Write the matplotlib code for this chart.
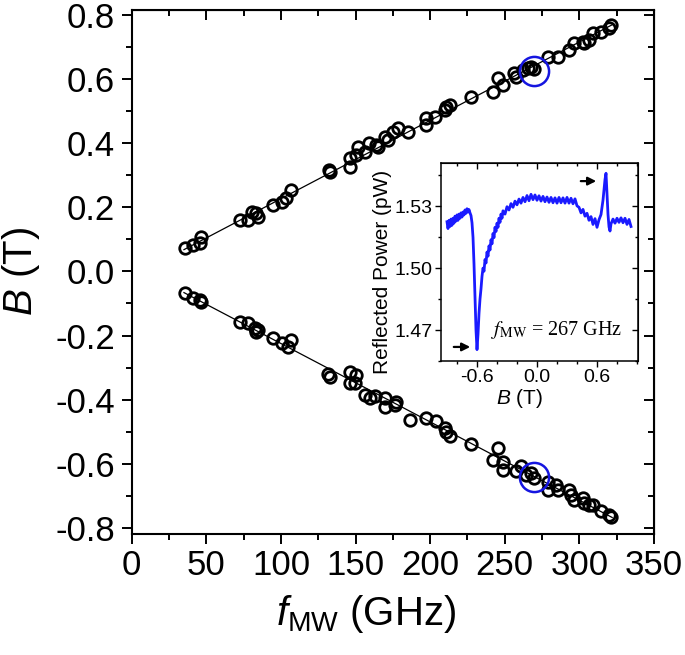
import matplotlib
matplotlib.use("Agg")
import matplotlib.pyplot as plt
from matplotlib.ticker import MultipleLocator

plt.rcParams['font.family'] = ['Liberation Sans', 'DejaVu Sans']
plt.rcParams['mathtext.fontset'] = 'custom'
plt.rcParams['mathtext.rm'] = 'Liberation Sans'
plt.rcParams['mathtext.it'] = 'Liberation Sans:italic'
plt.rcParams['axes.unicode_minus'] = False

# main data: resonance field vs microwave frequency
f_up = [35.7, 41.2, 45.7, 46.4, 72.5, 78.0, 80.3, 83.2, 84.7, 94.8, 100.4, 103.7,
        106.6, 132.2, 132.7, 146.1, 146.1, 150.6, 151.6, 156.1, 159.0, 164.0, 165.0,
        169.5, 171.7, 175.0, 178.4, 185.1, 197.4, 197.4, 203.0, 209.7, 210.8, 213.0,
        227.5, 242.0, 245.3, 248.7, 256.5, 257.6, 262.1, 265.4, 267.7, 269.9, 278.8,
        285.5, 293.3, 296.7, 302.2, 303.4, 306.7, 308.9, 314.5, 320.1, 321.2]
B_up = [0.072, 0.083, 0.088, 0.107, 0.161, 0.161, 0.187, 0.182, 0.171, 0.207, 0.218, 0.228,
        0.254, 0.317, 0.311, 0.327, 0.353, 0.363, 0.389, 0.374, 0.402, 0.395, 0.389,
        0.420, 0.410, 0.436, 0.447, 0.436, 0.478, 0.457, 0.483, 0.504, 0.514, 0.519,
        0.543, 0.561, 0.603, 0.582, 0.618, 0.608, 0.628, 0.634, 0.639, 0.631, 0.670,
        0.670, 0.691, 0.712, 0.717, 0.712, 0.722, 0.743, 0.748, 0.759, 0.769]

f_dn = [35.7, 41.2, 45.7, 46.4, 72.5, 78.0, 82.5, 84.7, 83.6, 94.8, 100.4, 104.8,
        106.6, 131.6, 132.7, 146.1, 150.6, 146.1, 149.4, 156.1, 159.5, 162.8, 169.5,
        169.5, 176.2, 177.3, 186.2, 197.4, 204.1, 209.7, 210.8, 213.0, 227.5, 245.3,
        242.0, 248.7, 248.7, 257.6, 261.0, 264.3, 267.7, 269.9, 278.8, 278.8, 284.4,
        285.5, 293.3, 294.4, 296.7, 302.2, 303.4, 306.7, 308.9, 314.5, 320.1, 321.2]
B_dn = [-0.066, -0.084, -0.089, -0.094, -0.157, -0.162, -0.177, -0.182, -0.188, -0.208, -0.224, -0.235,
        -0.214, -0.320, -0.328, -0.313, -0.323, -0.349, -0.349, -0.385, -0.396, -0.388, -0.396,
        -0.422, -0.416, -0.408, -0.463, -0.458, -0.468, -0.489, -0.500, -0.515, -0.538, -0.551,
        -0.588, -0.596, -0.619, -0.624, -0.607, -0.635, -0.629, -0.645, -0.656, -0.682, -0.666,
        -0.682, -0.682, -0.697, -0.713, -0.707, -0.723, -0.728, -0.728, -0.749, -0.760, -0.765]

# linear fits
fit_f = [35, 322]
fit_up = [0.068, 0.770]
fit_dn = [-0.066, -0.768]

# highlighted 267 GHz points
mark_f = [269.4, 269.4]
mark_B = [0.626, -0.642]

# inset: reflected power trace at 267 GHz
trace_B = [-0.90, -0.89, -0.88, -0.87, -0.86, -0.85, -0.84, -0.83, -0.82, -0.81, -0.80, -0.79,
           -0.78, -0.77, -0.76, -0.75, -0.74, -0.73, -0.72, -0.71, -0.70, -0.69, -0.68, -0.67,
           -0.66, -0.65, -0.64, -0.63, -0.62, -0.61, -0.60, -0.59, -0.58, -0.57, -0.56, -0.55,
           -0.54, -0.53, -0.52, -0.51, -0.50, -0.49, -0.48, -0.47, -0.46, -0.45, -0.44, -0.43,
           -0.42, -0.41, -0.40, -0.39, -0.38, -0.37, -0.36, -0.35, -0.34, -0.32, -0.30, -0.28,
           -0.26, -0.24, -0.22, -0.20, -0.18, -0.16, -0.14, -0.12, -0.10, -0.08, -0.06, -0.04,
           -0.02, 0.00, 0.02, 0.04, 0.06, 0.08, 0.10, 0.12, 0.14, 0.16, 0.18, 0.20,
           0.22, 0.24, 0.26, 0.28, 0.30, 0.32, 0.34, 0.36, 0.38, 0.40, 0.42, 0.44,
           0.46, 0.48, 0.50, 0.52, 0.54, 0.56, 0.58, 0.60, 0.62, 0.64, 0.66, 0.68,
           0.69, 0.70, 0.71, 0.72, 0.73, 0.74, 0.76, 0.78, 0.80, 0.82, 0.84, 0.86,
           0.88, 0.90, 0.92, 0.94]
trace_P = [1.5225, 1.5192, 1.5232, 1.5202, 1.5238, 1.5208, 1.5242, 1.5218, 1.5252, 1.5228, 1.5258, 1.5232,
           1.5262, 1.5242, 1.5268, 1.5248, 1.5272, 1.5258, 1.5282, 1.5266, 1.5288, 1.5272, 1.5284, 1.5268,
           1.5255, 1.5220, 1.5150, 1.5020, 1.4860, 1.4700, 1.4605, 1.4680, 1.4780, 1.4850, 1.4900, 1.4960,
           1.5000, 1.4985, 1.5042, 1.5025, 1.5078, 1.5058, 1.5108, 1.5088, 1.5138, 1.5118, 1.5168, 1.5148,
           1.5198, 1.5178, 1.5218, 1.5198, 1.5242, 1.5222, 1.5262, 1.5242, 1.5278, 1.5262, 1.5298, 1.5282,
           1.5313, 1.5295, 1.5325, 1.5307, 1.5335, 1.5315, 1.5343, 1.5322, 1.5352, 1.5327, 1.5358, 1.5332,
           1.5355, 1.5329, 1.5351, 1.5325, 1.5348, 1.5322, 1.5345, 1.5319, 1.5343, 1.5317, 1.5341, 1.5315,
           1.5343, 1.5317, 1.5341, 1.5315, 1.5343, 1.5315, 1.5339, 1.5312, 1.5336, 1.5302, 1.5295, 1.5268,
           1.5285, 1.5252, 1.5266, 1.5232, 1.5250, 1.5212, 1.5240, 1.5198, 1.5235, 1.5260, 1.5330, 1.5430,
           1.5460, 1.5360, 1.5260, 1.5200, 1.5180, 1.5215, 1.5238, 1.5218, 1.5242, 1.5222, 1.5244, 1.5220,
           1.5242, 1.5212, 1.5236, 1.5202]

fig = plt.figure(figsize=(6.85, 6.55), dpi=100)
ax = fig.add_axes([0.1923, 0.185, 0.7624, 0.7997])

ax.plot(fit_f, fit_up, color='black', lw=0.9, zorder=2)
ax.plot(fit_f, fit_dn, color='black', lw=0.9, zorder=2)
ax.plot(f_up, B_up, 'o', ms=8.3, mfc='none', mec='black', mew=2.0, zorder=3)
ax.plot(f_dn, B_dn, 'o', ms=8.3, mfc='none', mec='black', mew=2.0, zorder=3)
ax.plot(mark_f, mark_B, 'o', ms=21, mfc='none', mec='#1515e0', mew=1.8, zorder=4)

ax.set_xlim(0, 350)
ax.set_ylim(-0.819, 0.816)
ax.xaxis.set_major_locator(MultipleLocator(50))
ax.xaxis.set_minor_locator(MultipleLocator(25))
ax.yaxis.set_major_locator(MultipleLocator(0.2))
ax.yaxis.set_minor_locator(MultipleLocator(0.1))
ax.yaxis.set_major_formatter(matplotlib.ticker.FormatStrFormatter('%.1f'))
for s in ax.spines.values():
    s.set_linewidth(1.5)
ax.tick_params(which='major', direction='out', length=7, width=1.4, labelsize=25)
ax.tick_params(axis='x', pad=4)
ax.tick_params(axis='y', pad=5)
ax.tick_params(which='minor', direction='out', length=4, width=1.4)

# mirrored ticks pointing inward on top and right
top = ax.secondary_xaxis('top')
top.xaxis.set_major_locator(MultipleLocator(50))
top.xaxis.set_minor_locator(MultipleLocator(25))
top.tick_params(which='major', direction='in', length=7, width=1.4, labeltop=False)
top.tick_params(which='minor', direction='in', length=4, width=1.4)
right = ax.secondary_yaxis('right')
right.yaxis.set_major_locator(MultipleLocator(0.2))
right.yaxis.set_minor_locator(MultipleLocator(0.1))
right.tick_params(which='major', direction='in', length=7, width=1.4, labelright=False)
right.tick_params(which='minor', direction='in', length=4, width=1.4)

ax.set_xlabel(r'$f_{\mathrm{MW}}$ (GHz)', fontsize=29)
ax.xaxis.set_label_coords(0.449, -0.113)
ax.set_ylabel(r'$B$ (T)', fontsize=29)
ax.yaxis.set_label_coords(-0.172, 0.5)

# inset
axi = fig.add_axes([0.6438, 0.4489, 0.2876, 0.3023])
axi.plot(trace_B, trace_P, color='#1a1aff', lw=2.0)
axi.set_xlim(-0.96, 1.01)
axi.set_ylim(1.455, 1.551)
axi.xaxis.set_major_locator(MultipleLocator(0.6))
axi.xaxis.set_minor_locator(MultipleLocator(0.2))
axi.yaxis.set_major_locator(MultipleLocator(0.03))
axi.yaxis.set_minor_locator(MultipleLocator(0.015))
axi.xaxis.set_major_formatter(matplotlib.ticker.FormatStrFormatter('%.1f'))
axi.yaxis.set_major_formatter(matplotlib.ticker.FormatStrFormatter('%.2f'))
for s in axi.spines.values():
    s.set_linewidth(1.1)
axi.tick_params(which='major', direction='out', length=4, width=1.0, labelsize=14, pad=2)
axi.tick_params(which='minor', direction='out', length=2.5, width=1.0)
itop = axi.secondary_xaxis('top')
itop.xaxis.set_major_locator(MultipleLocator(0.6))
itop.xaxis.set_minor_locator(MultipleLocator(0.2))
itop.tick_params(which='major', direction='in', length=4, width=1.0, labeltop=False)
itop.tick_params(which='minor', direction='in', length=2.5, width=1.0)
iright = axi.secondary_yaxis('right')
iright.yaxis.set_major_locator(MultipleLocator(0.03))
iright.yaxis.set_minor_locator(MultipleLocator(0.015))
iright.tick_params(which='major', direction='in', length=4, width=1.0, labelright=False)
iright.tick_params(which='minor', direction='in', length=2.5, width=1.0)

axi.set_xlabel(r'$B$ (T)', fontsize=15)
axi.xaxis.set_label_coords(0.40, -0.13)
axi.set_ylabel('Reflected Power (pW)', fontsize=15)
axi.yaxis.set_label_coords(-0.25, 0.45)

axi.annotate('', xy=(-0.64, 1.4618), xytext=(-0.86, 1.4618),
             arrowprops=dict(arrowstyle='-|>', color='black', lw=1.6, mutation_scale=12))
axi.annotate('', xy=(0.62, 1.5422), xytext=(0.41, 1.5422),
             arrowprops=dict(arrowstyle='-|>', color='black', lw=1.6, mutation_scale=12))
axi.text(-0.46, 1.470, r'$f_{\mathrm{MW}}$ = 267 GHz', fontsize=14.5,
         family='Liberation Serif', math_fontfamily='stix', va='center', ha='left')

fig.savefig('out.png', dpi=100)
